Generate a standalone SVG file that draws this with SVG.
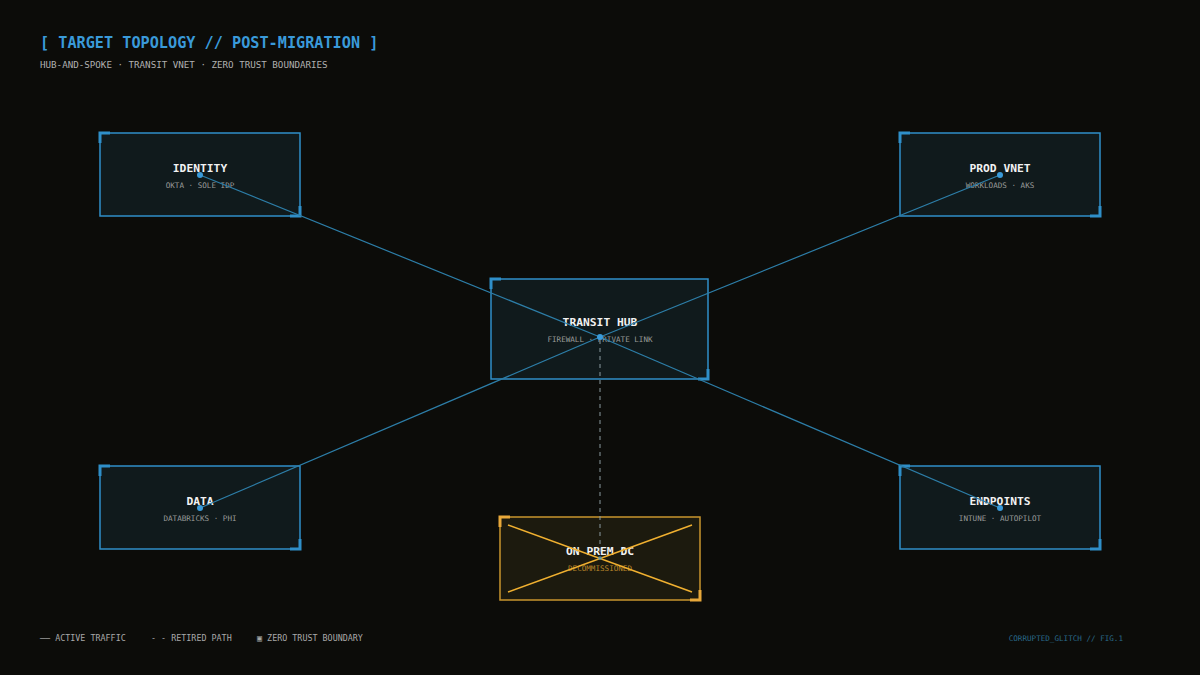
<svg xmlns="http://www.w3.org/2000/svg" width="1200" height="675" viewBox="0 0 1200 675">
<defs>
<style>
.mono{font-family:"DejaVu Sans Mono","Liberation Mono",monospace;}
.box{fill:#111c1f;fill-opacity:0.9;stroke:#2f8fc9;stroke-width:1.5;}
.corner{fill:none;stroke:#2f8fc9;stroke-width:3;}
.title{font-family:"DejaVu Sans Mono","Liberation Mono",monospace;font-size:11.3px;font-weight:bold;fill:#f2f2f2;text-anchor:middle;}
.sub{font-family:"DejaVu Sans Mono","Liberation Mono",monospace;font-size:7.6px;fill:#9a9a9a;text-anchor:middle;}
.link{stroke:#2d7ea8;stroke-width:1.2;fill:none;}
.dot{fill:#3a9ad9;}
.legend{font-family:"DejaVu Sans Mono","Liberation Mono",monospace;font-size:8.4px;fill:#a8a8a8;}
</style>
</defs>
<rect width="1200" height="675" fill="#0c0c09"/>
<g id="header">
<text x="40" y="48" class="mono" font-size="15.2" font-weight="bold" fill="#3a9ad9">[ TARGET TOPOLOGY // POST-MIGRATION ]</text>
<text x="40" y="68" class="mono" font-size="9.2" fill="#b0b0b0">HUB-AND-SPOKE · TRANSIT VNET · ZERO TRUST BOUNDARIES</text>
</g>
<g id="node-identity">
<rect class="box" x="100" y="133" width="200" height="83"/>
<path class="corner" d="M100,143 V133 H110"/>
<path class="corner" d="M290,216 H300 V206"/>
<text class="title" x="200" y="172">IDENTITY</text>
<text class="sub" x="200" y="188">OKTA · SOLE IDP</text>
</g>
<g id="node-prod">
<rect class="box" x="900" y="133" width="200" height="83"/>
<path class="corner" d="M900,143 V133 H910"/>
<path class="corner" d="M1090,216 H1100 V206"/>
<text class="title" x="1000" y="172">PROD VNET</text>
<text class="sub" x="1000" y="188">WORKLOADS · AKS</text>
</g>
<g id="node-hub">
<rect class="box" x="491" y="279" width="217" height="100"/>
<path class="corner" d="M491,289 V279 H501"/>
<path class="corner" d="M698,379 H708 V369"/>
<text class="title" x="600" y="326">TRANSIT HUB</text>
<text class="sub" x="600" y="342">FIREWALL · PRIVATE LINK</text>
</g>
<g id="node-data">
<rect class="box" x="100" y="466" width="200" height="83"/>
<path class="corner" d="M100,476 V466 H110"/>
<path class="corner" d="M290,549 H300 V539"/>
<text class="title" x="200" y="505">DATA</text>
<text class="sub" x="200" y="521">DATABRICKS · PHI</text>
</g>
<g id="node-endpoints">
<rect class="box" x="900" y="466" width="200" height="83"/>
<path class="corner" d="M900,476 V466 H910"/>
<path class="corner" d="M1090,549 H1100 V539"/>
<text class="title" x="1000" y="505">ENDPOINTS</text>
<text class="sub" x="1000" y="521">INTUNE · AUTOPILOT</text>
</g>
<g id="node-onprem">
<rect x="500" y="517" width="200" height="83" fill="#1c1a0e" stroke="#c8952e" stroke-width="1.5"/>
<path d="M500,527 V517 H510" fill="none" stroke="#e8a83a" stroke-width="3"/>
<path d="M690,600 H700 V590" fill="none" stroke="#e8a83a" stroke-width="3"/>
<text class="title" x="600" y="555">ON PREM DC</text>
<text x="600" y="571" font-family="DejaVu Sans Mono, Liberation Mono, monospace" font-size="7.6" fill="#b8862a" text-anchor="middle">DECOMMISSIONED</text>
<line x1="508" y1="525" x2="692" y2="592" stroke="#f0b030" stroke-width="1.6"/>
<line x1="508" y1="592" x2="692" y2="525" stroke="#f0b030" stroke-width="1.6"/>
</g>
<g id="connectors">
<line class="link" x1="200" y1="175" x2="600" y2="337"/>
<line class="link" x1="1000" y1="175" x2="600" y2="337"/>
<line class="link" x1="200" y1="508" x2="600" y2="337"/>
<line class="link" x1="1000" y1="508" x2="600" y2="337"/>
<line x1="600" y1="340" x2="600" y2="556" stroke="#8a9aa0" stroke-width="1" stroke-dasharray="4 4"/>
<circle class="dot" cx="200" cy="175" r="3"/>
<circle class="dot" cx="1000" cy="175" r="3"/>
<circle class="dot" cx="200" cy="508" r="3"/>
<circle class="dot" cx="1000" cy="508" r="3"/>
<circle class="dot" cx="600" cy="337" r="3"/>
<circle cx="600" cy="558" r="2" fill="#3a9ad9" fill-opacity="0.6"/>
</g>
<g id="legend">
<text class="legend" x="40" y="641">── ACTIVE TRAFFIC</text>
<text class="legend" x="151" y="641">- - RETIRED PATH</text>
<text class="legend" x="257" y="641">▣ ZERO TRUST BOUNDARY</text>
<text x="1123" y="641" font-family="DejaVu Sans Mono, Liberation Mono, monospace" font-size="7.6" fill="#2a6a8a" text-anchor="end">CORRUPTED_GLITCH // FIG.1</text>
</g>
</svg>
